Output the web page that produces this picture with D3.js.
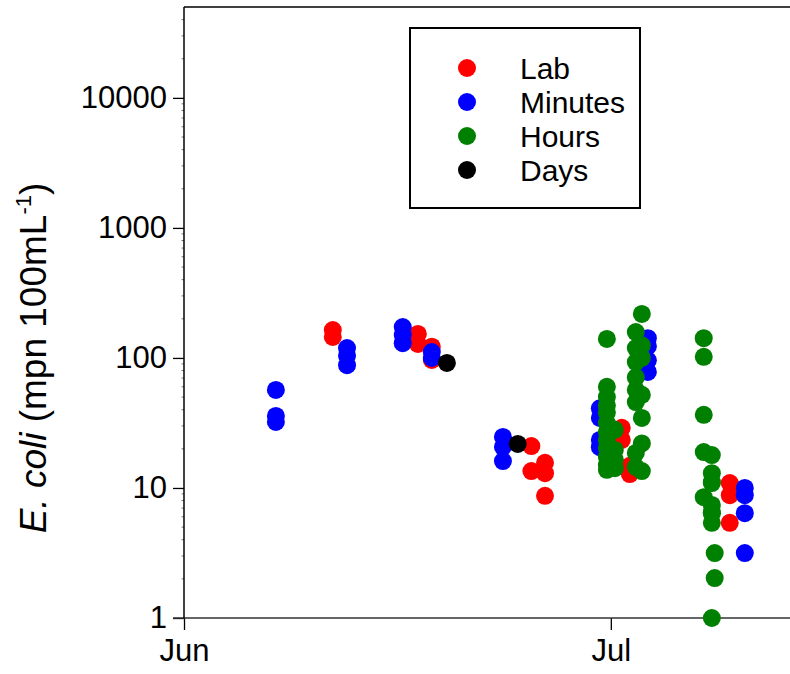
<!DOCTYPE html>
<html>
<head>
<meta charset="utf-8">
<script src="https://cdn.jsdelivr.net/npm/d3@7"></script>
<style>
  html, body { margin: 0; padding: 0; background: #fff; }
  svg { display: block; font-family: Arial, "Liberation Sans", sans-serif; }
</style>
</head>
<body>
<svg id="chart" width="790" height="674"></svg>
<script>
// E. coli counts by sampling time, grouped by method turnaround
const seriesNames = ["Lab", "Minutes", "Hours", "Days"];
const seriesColors = ["#ff0000", "#0000ff", "#008000", "#000000"];

const labDates = [
  "06-11 11:00", "06-11 11:00",
  "06-17 10:30", "06-17 10:30",
  "06-18 10:00", "06-18 10:00",
  "06-25 10:00", "06-25 10:00",
  "06-26 09:00", "06-26 09:00", "06-26 09:00",
  "07-01 18:30", "07-01 18:30",
  "07-02 08:00", "07-02 08:00",
  "07-09 08:40", "07-09 08:40", "07-09 08:40"
];
const labValues = [
  164, 145,
  153, 128,
  122, 96.6,
  21.0, 13.5,
  15.6, 13.0, 8.7,
  29, 23.4,
  12.8, 14.8,
  10.9, 8.8, 5.4
];

const minutesDates = [
  "06-07 11:00", "06-07 11:00", "06-07 11:00",
  "06-12 11:00", "06-12 11:00", "06-12 11:00",
  "06-16 09:00", "06-16 09:00", "06-16 09:00",
  "06-18 10:00", "06-18 10:00",
  "06-23 10:00", "06-23 10:00", "06-23 10:00",
  "06-30 05:30", "06-30 05:30", "06-30 05:30", "06-30 05:30",
  "07-03 14:30", "07-03 14:30", "07-03 14:30", "07-03 14:30",
  "07-10 10:00", "07-10 10:00", "07-10 10:00", "07-10 10:00"
];
const minutesValues = [
  56.7, 35.8, 32.2,
  119, 104, 88,
  173, 150, 130,
  111, 100,
  24.7, 20.7, 16.1,
  41, 34.6, 23.4, 20.6,
  142, 123, 96, 78,
  10, 8.8, 6.4, 3.16
];

const hoursDates = [
  "06-30 17:20", "06-30 17:20", "06-30 17:20", "06-30 17:20", "06-30 17:20", "06-30 17:20",
  "06-30 17:20", "06-30 17:20", "06-30 17:20", "06-30 17:20", "06-30 17:20", "06-30 17:20",
  "07-01 06:45", "07-01 06:45", "07-01 06:45", "07-01 06:45",
  "07-02 18:10", "07-02 18:10", "07-02 18:10", "07-02 18:10",
  "07-02 18:10", "07-02 18:10", "07-02 18:10", "07-02 18:10",
  "07-03 04:20", "07-03 04:20", "07-03 04:20", "07-03 04:20",
  "07-03 04:20", "07-03 04:20", "07-03 04:20",
  "07-07 12:45", "07-07 12:45", "07-07 12:45", "07-07 12:45", "07-07 12:45",
  "07-08 02:25", "07-08 02:25", "07-08 02:25", "07-08 02:25", "07-08 02:25",
  "07-08 02:25", "07-08 02:25", "07-08 02:25", "07-08 02:25",
  "07-08 07:15", "07-08 07:15"
];
const hoursValues = [
  140, 60, 50, 43, 38, 31.6,
  27, 23.4, 20.3, 17.3, 15, 13.8,
  28, 19.6, 14.2, 16.5,
  158, 119, 93, 71,
  56.7, 45.8, 18.6, 14.5,
  218, 125, 100, 52,
  34.6, 22, 13.5,
  142, 102, 36.5, 18.9, 8.5,
  17.9, 13.0, 11.1, 10.9, 7.4,
  6.5, 6.4, 5.4, 1.0,
  3.16, 2.03
];

const daysDates = ["06-19 11:30", "06-24 11:00"];
const daysValues = [91.6, 21.8];

const xTickDates = ["06-01 00:00", "07-01 00:00"];
const yTickValues = [1, 10, 100, 1000, 10000];

const year = "2009-";
const parse = d3.timeParse("%Y-%m-%d %H:%M");
const toDate = s => parse(year + s);

const svg = d3.select("#chart");

// plot frame
const plotLeft = 184, plotBottom = 618, plotTop = 7, plotRight = 810;

const x = d3.scaleTime()
  .domain([toDate("06-01 00:00"), toDate("07-15 00:00")])
  .range([plotLeft, plotRight]);

const y = d3.scaleLog()
  .domain([1, 50000])
  .range([plotBottom, plotTop]);

// minor y ticks (2..9 per decade)
const minor = [];
for (let p = 0; p <= 4; p++) {
  for (let k = 2; k <= 9; k++) {
    const v = k * Math.pow(10, p);
    if (v < 50000) minor.push(v);
  }
}
svg.append("g")
  .selectAll("line")
  .data(minor)
  .join("line")
  .attr("x1", plotLeft - 2.5).attr("x2", plotLeft)
  .attr("y1", d => y(d)).attr("y2", d => y(d))
  .attr("stroke", "#777").attr("stroke-width", 1);

// y axis
const yAxis = d3.axisLeft(y)
  .tickValues(yTickValues)
  .tickFormat(d3.format("d"))
  .tickSize(11)
  .tickPadding(6);
const gy = svg.append("g")
  .attr("transform", `translate(${plotLeft},0)`)
  .call(yAxis);
gy.select(".domain").remove();
gy.selectAll(".tick line").attr("stroke", "#000").attr("stroke-width", 1.3);
gy.selectAll(".tick text")
  .attr("font-size", 31)
  .attr("font-family", "Arial, 'Liberation Sans', sans-serif")
  .attr("fill", "#000");

// x axis
const xAxis = d3.axisBottom(x)
  .tickValues(xTickDates.map(toDate))
  .tickFormat(d3.timeFormat("%b"))
  .tickSize(12)
  .tickPadding(9);
const gx = svg.append("g")
  .attr("transform", `translate(0,${plotBottom})`)
  .call(xAxis);
gx.select(".domain").remove();
gx.selectAll(".tick line").attr("stroke", "#000").attr("stroke-width", 1.3);
gx.selectAll(".tick text")
  .attr("font-size", 31)
  .attr("font-family", "Arial, 'Liberation Sans', sans-serif")
  .attr("fill", "#000");

// frame lines
svg.append("line")
  .attr("x1", plotLeft - 11).attr("x2", 790)
  .attr("y1", plotBottom).attr("y2", plotBottom)
  .attr("stroke", "#333").attr("stroke-width", 1.5);
svg.append("line")
  .attr("x1", plotLeft).attr("x2", plotLeft)
  .attr("y1", plotTop).attr("y2", plotBottom)
  .attr("stroke", "#000").attr("stroke-width", 1.5);
svg.append("line")
  .attr("x1", plotLeft).attr("x2", 790)
  .attr("y1", plotTop).attr("y2", plotTop)
  .attr("stroke", "#000").attr("stroke-width", 1.5);

// points, drawn series by series in legend order
const seriesData = [
  [labDates, labValues],
  [minutesDates, minutesValues],
  [hoursDates, hoursValues],
  [daysDates, daysValues]
];
seriesData.forEach(([dates, values], i) => {
  svg.append("g")
    .selectAll("circle")
    .data(values.map((v, j) => ({ date: toDate(dates[j]), value: v })))
    .join("circle")
    .attr("cx", d => x(d.date))
    .attr("cy", d => y(d.value))
    .attr("r", 9)
    .attr("fill", seriesColors[i]);
});

// y axis title
const title = svg.append("text")
  .attr("transform", "translate(46,358) rotate(-90)")
  .attr("text-anchor", "middle")
  .attr("font-size", 37)
  .attr("fill", "#000");
title.append("tspan").attr("font-style", "italic").text("E. coli");
title.append("tspan").text(" (mpn 100mL");
title.append("tspan").attr("font-size", 22).attr("dy", -15).text("-1");
title.append("tspan").attr("dy", 15).text(")");

// legend
const legend = svg.append("g");
legend.append("rect")
  .attr("x", 410).attr("y", 28)
  .attr("width", 230).attr("height", 180)
  .attr("fill", "#fff")
  .attr("stroke", "#000").attr("stroke-width", 2);
const rows = legend.selectAll("g.row")
  .data(seriesNames)
  .join("g")
  .attr("class", "row")
  .attr("transform", (d, i) => `translate(0,${68 + i * 34})`);
rows.append("circle")
  .attr("cx", 467).attr("cy", 0).attr("r", 9)
  .attr("fill", (d, i) => seriesColors[i]);
rows.append("text")
  .attr("x", 520).attr("y", 0)
  .attr("dy", "0.35em")
  .attr("font-size", 30)
  .attr("fill", "#000")
  .text(d => d);
</script>
</body>
</html>
